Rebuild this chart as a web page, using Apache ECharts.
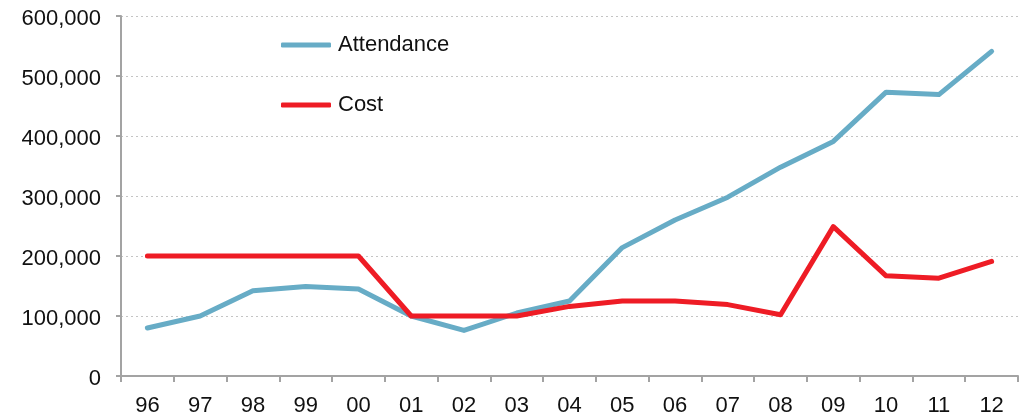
<!DOCTYPE html>
<html>
<head>
<meta charset="utf-8">
<script src="https://cdn.jsdelivr.net/npm/echarts@6/dist/echarts.min.js"></script>
<style>
  html, body { margin: 0; padding: 0; background: #fff; }
  #chart { width: 1029px; height: 417px; }
</style>
</head>
<body>
<div id="chart"></div>
<script>
// Season labels (two-digit years)
var years = ['96', '97', '98', '99', '00', '01', '02', '03', '04', '05', '06', '07', '08', '09', '10', '11', '12'];
// Yearly attendance
var attendance = [80000, 100000, 142000, 149000, 145000, 100000, 76000, 105000, 125000, 214000, 260000, 298000, 348000, 391000, 473000, 469000, 541000];
// Yearly cost
var cost = [200000, 200000, 200000, 200000, 200000, 100000, 100000, 100000, 116000, 125000, 125000, 119000, 102000, 249000, 167000, 163000, 191000];

var FONT = '"Liberation Sans", Arial, Helvetica, sans-serif';
var axisGray = '#a3a3a3';

var chart = echarts.init(document.getElementById('chart'), null, { renderer: 'canvas' });
chart.setOption({
  animation: false,
  backgroundColor: '#ffffff',
  textStyle: { fontFamily: FONT },
  grid: { left: 121, right: 11, top: 16, bottom: 41, containLabel: false },
  legend: {
    orient: 'vertical',
    left: 276,
    top: 29,
    itemWidth: 50,
    itemHeight: 5,
    itemGap: 38,
    icon: 'roundRect',
    textStyle: { fontFamily: FONT, fontSize: 22, color: '#111', padding: [0, 0, 0, 2] },
    data: ['Attendance', 'Cost']
  },
  xAxis: {
    type: 'category',
    data: years,
    boundaryGap: true,
    axisLine: { lineStyle: { color: axisGray, width: 2 } },
    axisTick: { show: true, length: 6, lineStyle: { color: axisGray, width: 2 } },
    axisLabel: { fontFamily: FONT, fontSize: 22, color: '#111', margin: 19 },
    splitLine: { show: false }
  },
  yAxis: {
    type: 'value',
    min: 0,
    max: 600000,
    interval: 100000,
    axisLine: { show: true, lineStyle: { color: axisGray, width: 2 } },
    axisTick: { show: true, length: 5, lineStyle: { color: axisGray, width: 2 } },
    axisLabel: {
      fontFamily: FONT, fontSize: 22, color: '#111', margin: 20,
      formatter: function (v) { return '{n|' + v.toLocaleString('en-US') + '}'; },
      rich: {
        n: { fontFamily: FONT, fontSize: 22, color: '#111', padding: [5, 0, 0, 0] }
      }
    },
    splitLine: { show: true, lineStyle: { color: '#c4c4c4', width: 1, type: [2, 3] } }
  },
  series: [
    {
      name: 'Attendance',
      type: 'line',
      data: attendance,
      symbol: 'none',
      lineStyle: { color: '#67acc6', width: 5, cap: 'round', join: 'round' },
      itemStyle: { color: '#67acc6' }
    },
    {
      name: 'Cost',
      type: 'line',
      data: cost,
      symbol: 'none',
      lineStyle: { color: '#ee1c25', width: 5, cap: 'round', join: 'round' },
      itemStyle: { color: '#ee1c25' }
    }
  ]
});
</script>
</body>
</html>
